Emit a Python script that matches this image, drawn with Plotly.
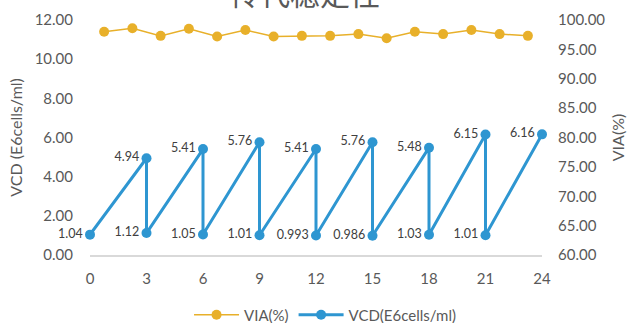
import plotly.graph_objects as go

title_text = "传代稳定性"
vcd_x = [0, 3, 3, 6, 6, 9, 9, 12, 12, 15, 15, 18, 18, 21, 21, 24]
vcd_y = [1.04, 4.94, 1.12, 5.41, 1.05, 5.76, 1.01, 5.41, 0.993, 5.76, 0.986, 5.48, 1.03, 6.15, 1.01, 6.16]
vcd_labels = ["1.04", "4.94", "1.12", "5.41", "1.05", "5.76", "1.01", "5.41", "0.993", "5.76", "0.986", "5.48", "1.03", "6.15", "1.01", "6.16"]
via_cat = list(range(1, 17))
via_y = [98.0, 98.6, 97.3, 98.5, 97.2, 98.3, 97.2, 97.3, 97.3, 97.6, 96.9, 98.0, 97.6, 98.3, 97.6, 97.3]
x_ticks = [0, 3, 6, 9, 12, 15, 18, 21, 24]
left_ticks = [0, 2, 4, 6, 8, 10, 12]
right_ticks = [60, 65, 70, 75, 80, 85, 90, 95, 100]

ORANGE = "#E8B02A"
BLUE = "#2E96D1"
GRAY = "#595959"
FONT = "Lato, 'Noto Sans', sans-serif"

fig = go.Figure()
fig.add_trace(go.Scatter(
    x=via_cat, y=via_y, name="VIA(%)", mode="lines+markers",
    line=dict(color=ORANGE, width=1.5), marker=dict(color=ORANGE, size=10),
    xaxis="x2", yaxis="y2"))
fig.add_trace(go.Scatter(
    x=vcd_x, y=vcd_y, name="VCD(E6cells/ml)", mode="lines+markers+text",
    text=vcd_labels, textposition="middle left",
    textfont=dict(size=12.5, color="#404040", family=FONT),
    line=dict(color=BLUE, width=3), marker=dict(color=BLUE, size=10),
    cliponaxis=False))

fig.update_layout(
    width=633, height=323,
    margin=dict(l=90, r=91, t=20, b=68, autoexpand=False),
    paper_bgcolor="white", plot_bgcolor="white",
    font=dict(family=FONT, color=GRAY, size=15),
    showlegend=True,
    legend=dict(orientation="h", x=0.52, xanchor="center", y=-0.255, yanchor="middle",
                font=dict(size=15, color=GRAY), tracegroupgap=0, itemwidth=45),
    xaxis=dict(range=[0, 24], tickvals=x_ticks, ticktext=[str(v) for v in x_ticks],
               showgrid=False, zeroline=False, showline=True, linecolor="#D9D9D9",
               linewidth=1.5, ticks="", ticklabelstandoff=9,
               tickfont=dict(size=15, color=GRAY)),
    xaxis2=dict(range=[0.5, 16.5], overlaying="x", visible=False),
    yaxis=dict(range=[0, 12], tickvals=left_ticks, ticktext=[f"{v:.2f}" for v in left_ticks],
               showgrid=False, zeroline=False, showline=False, ticks="",
               ticklabelstandoff=16, tickfont=dict(size=15, color=GRAY),
               title=dict(text="VCD (E6cells/ml)", font=dict(size=16, color=GRAY), standoff=8)),
    yaxis2=dict(range=[60, 100], tickvals=right_ticks, ticktext=[f"{v:.2f}" for v in right_ticks],
                overlaying="y", side="right", anchor="x", showgrid=False, zeroline=False,
                showline=False, ticks="", ticklabelstandoff=15, tickfont=dict(size=15, color=GRAY),
                title=dict(text="VIA(%)", font=dict(size=16, color=GRAY), standoff=8)),
)
fig.add_annotation(text=title_text, xref="paper", yref="paper", x=0.475, y=1.0,
                   yanchor="bottom", yshift=4, showarrow=False,
                   font=dict(size=30, color=GRAY, family="'Noto Sans CJK SC', sans-serif"))
fig.write_html("out.html")
